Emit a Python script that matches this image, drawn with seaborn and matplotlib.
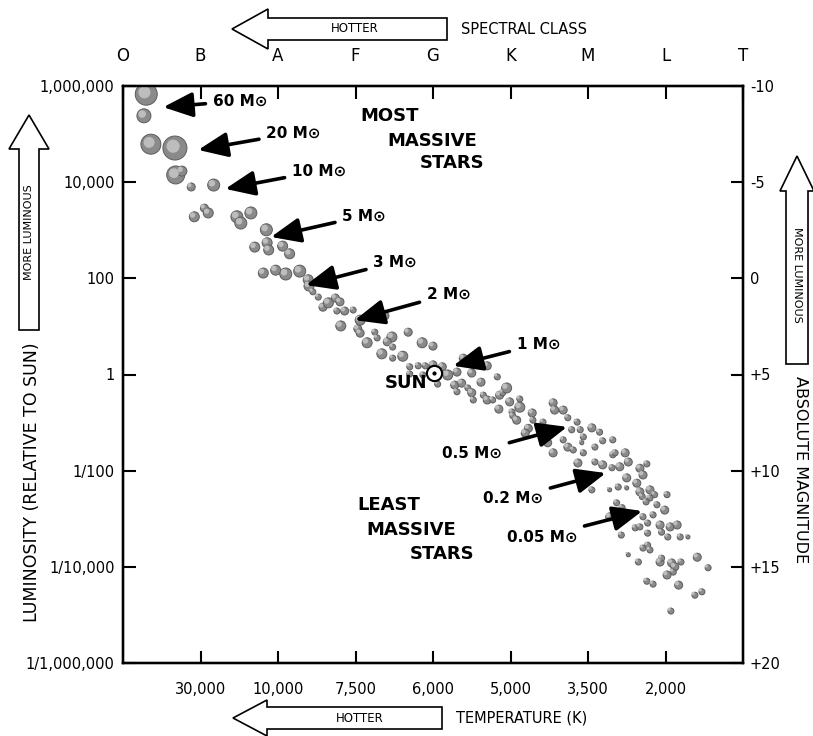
import matplotlib
matplotlib.use("Agg")
import matplotlib.pyplot as plt
import matplotlib.transforms as mtransforms
from matplotlib.patches import Polygon
import numpy as np
import pandas as pd
import seaborn as sns

# ---------------- data ----------------
spectral_classes = ["O", "B", "A", "F", "G", "K", "M", "L", "T"]
temp_labels = ["30,000", "10,000", "7,500", "6,000", "5,000", "3,500", "2,000"]
lum_ticks = [6, 4, 2, 0, -2, -4, -6]
lum_labels = ["1,000,000", "10,000", "100", "1", "1/100", "1/10,000", "1/1,000,000"]
mag_labels = ["-10", "-5", "0", "+5", "+10", "+15", "+20"]

# star positions: spectral-class position (O=0 ... T=8), log10 luminosity, relative radius
spec_pos = [0.30, 0.27, 0.36, 0.67, 0.68, 0.76, 0.88, 1.17, 0.92, 1.05, 1.10, 1.47, 1.52, 1.65,
            1.85, 1.70, 1.86, 1.88, 2.06, 2.15, 1.81, 1.97, 2.10, 2.28, 2.39, 2.40, 2.45, 2.52,
            2.58, 2.65, 2.74, 2.80, 2.76, 2.86, 2.97, 3.06, 3.38, 2.81, 3.03, 3.06, 3.25, 3.28,
            3.47, 3.41, 3.15, 3.48, 3.68, 3.86, 4.00, 3.34, 3.48, 3.61, 3.70, 3.81, 3.90, 4.00,
            4.12, 3.70, 3.87, 4.06, 4.19, 4.31, 4.39, 4.50, 4.70, 4.83, 4.50, 4.28, 4.37, 4.31,
            4.45, 4.62, 4.50, 4.52, 4.65, 4.70, 4.86, 4.90, 4.95, 4.99, 5.12, 4.77, 4.85, 5.02,
            5.12, 5.08, 5.03, 5.28, 5.29, 5.42, 5.23, 5.19, 5.47, 5.55, 5.57, 5.68, 5.74, 5.86,
            5.79, 5.90, 5.94, 6.05, 6.15, 6.19, 6.09, 6.32, 6.32, 5.48, 5.55, 5.74, 5.81, 5.94,
            5.87, 6.09, 6.19, 6.31, 6.39, 6.05, 5.92, 5.68, 6.35, 6.48, 6.52, 6.41, 6.67, 6.71,
            6.76, 6.50, 6.28, 6.50, 6.63, 6.67, 6.70, 6.80, 6.86, 6.80, 6.75, 6.89, 7.02, 6.99,
            6.37, 6.44, 6.28, 6.43, 6.61, 6.67, 6.71, 6.77, 6.77, 6.84, 6.93, 7.06, 7.15, 7.03,
            6.95, 7.19, 7.29, 6.52, 6.65, 6.71, 6.77, 6.80, 6.93, 6.95, 7.08, 7.12, 7.10, 7.02,
            7.20, 7.41, 7.55, 6.76, 6.84, 7.17, 7.38, 7.47, 7.07]
log_lum = [5.83, 5.38, 4.79, 4.71, 4.15, 4.23, 3.90, 3.94, 3.28, 3.46, 3.36, 3.28, 3.15, 3.36,
           3.01, 2.65, 2.74, 2.59, 2.67, 2.51, 2.11, 2.17, 2.09, 2.15, 1.97, 1.84, 1.72, 1.61,
           1.40, 1.49, 1.59, 1.51, 1.32, 1.32, 1.34, 1.13, 1.22, 1.01, 0.95, 0.86, 0.88, 0.76,
           0.78, 0.68, 0.66, 0.57, 0.88, 0.66, 0.59, 0.43, 0.34, 0.38, 0.16, 0.18, 0.18, 0.20,
           0.16, 0.01, -0.01, -0.20, -0.01, 0.05, 0.34, 0.20, 0.18, -0.05, 0.03, -0.22, -0.18, -0.36,
           -0.28, -0.16, -0.38, -0.53, -0.43, -0.53, -0.43, -0.38, -0.28, -0.57, -0.51, -0.53, -0.72, -0.78,
           -0.68, -0.95, -0.86, -0.80, -0.95, -0.99, -1.12, -1.22, -1.15, -0.59, -0.74, -0.74, -0.90, -0.99,
           -1.15, -1.15, -1.30, -1.11, -1.20, -1.38, -1.51, -1.36, -1.67, -1.42, -1.63, -1.51, -1.57, -1.63,
           -1.84, -1.82, -1.88, -1.94, -2.34, -2.40, -1.42, -1.36, -1.63, -1.63, -1.82, -1.92, -1.95, -2.09,
           -1.86, -2.15, -2.40, -2.36, -2.26, -2.44, -2.54, -2.40, -2.50, -2.57, -2.65, -2.71, -2.50, -2.82,
           -2.67, -2.77, -2.96, -3.34, -3.19, -3.17, -2.96, -3.09, -3.30, -2.92, -3.13, -3.17, -3.13, -3.38,
           -3.28, -3.38, -3.38, -3.75, -3.90, -3.61, -3.55, -3.65, -3.90, -3.82, -3.92, -4.00, -4.11, -4.17,
           -3.90, -3.80, -4.02, -4.30, -4.36, -4.38, -4.59, -4.52, -4.92]
star_radius = [11, 7, 10, 12, 9, 5, 4, 6, 5, 4, 5, 6, 6, 6,
               6, 5, 5, 5, 5, 5, 5, 5, 6, 6, 5, 5, 3, 3,
               4, 5, 4, 4, 3, 4, 3, 5, 4, 5, 4, 4, 3, 3,
               5, 4, 5, 3, 4, 5, 4, 5, 3, 5, 3, 3, 3, 4,
               4, 3, 3, 3, 5, 4, 4, 3, 4, 3, 4, 4, 4, 3,
               3, 4, 4, 3, 3, 4, 4, 3, 5, 4, 3, 3, 4, 3,
               5, 4, 3, 4, 3, 3, 4, 4, 4, 4, 4, 4, 3, 3,
               3, 3, 3, 4, 3, 3, 3, 3, 3, 4, 4, 4, 3, 3,
               4, 3, 4, 3, 3, 3, 2, 3, 3, 4, 4, 4, 4, 4,
               3, 4, 2, 2, 4, 4, 3, 4, 3, 3, 3, 3, 3, 4,
               3, 3, 4, 3, 3, 3, 3, 3, 3, 3, 4, 4, 4, 3,
               3, 3, 2, 2, 3, 3, 3, 3, 4, 3, 4, 4, 3, 4,
               3, 4, 3, 3, 3, 4, 3, 3, 3]

sun_pos = [4.01]
sun_logL = [0.03]

mass_labels = ["60 M\u2299", "20 M\u2299", "10 M\u2299", "5 M\u2299", "3 M\u2299", "2 M\u2299",
               "1 M\u2299", "0.5 M\u2299", "0.2 M\u2299", "0.05 M\u2299"]
arrow_tip_pos = [0.52, 0.97, 1.32, 1.91, 2.36, 2.99, 4.26, 5.73, 6.23, 6.70]
arrow_tip_logL = [5.56, 4.67, 3.86, 2.86, 1.86, 1.13, 0.18, -1.09, -2.05, -2.84]
label_pos = [1.16, 1.85, 2.18, 2.83, 3.23, 3.92, 5.08, 4.89, 5.42, 5.86]
label_logL = [5.69, 5.02, 4.23, 3.30, 2.34, 1.67, 0.63, -1.63, -2.57, -3.38]

# ---------------- figure ----------------
sns.set_theme(style="white")
plt.rcParams["font.family"] = ["DejaVu Sans"]
plt.rcParams["text.color"] = "black"
plt.rcParams["axes.labelcolor"] = "black"
plt.rcParams["xtick.color"] = "black"
plt.rcParams["ytick.color"] = "black"

W, H = 813, 736
fig = plt.figure(figsize=(W / 100, H / 100), dpi=100)
ax = fig.add_axes([123 / W, 1 - 663 / H, 620 / W, 577 / H])

df = pd.DataFrame({"spec": spec_pos, "logL": log_lum,
                   "area": np.square(np.array(star_radius, dtype=float))})
k = (1.44) ** 2
sns.scatterplot(data=df, x="spec", y="logL", size="area", sizes=(k * 4, k * 144),
                size_norm=(4, 144), color="#8a8a8a", edgecolor="#5c5c5c", linewidth=0.7,
                legend=False, ax=ax, zorder=3)
hl = ax.transData + mtransforms.ScaledTranslation(-1.3 / 72, 1.3 / 72, fig.dpi_scale_trans)
sns.scatterplot(data=df, x="spec", y="logL", size="area", sizes=(k * 4 * 0.3, k * 144 * 0.3),
                size_norm=(4, 144), color="#bdbdbd", linewidth=0, legend=False, ax=ax,
                zorder=4, transform=hl)

# sun symbol
sns.scatterplot(x=sun_pos, y=sun_logL, s=120, color="white", edgecolor="black",
                linewidth=1.5, ax=ax, zorder=6, legend=False)
sns.scatterplot(x=sun_pos, y=sun_logL, s=9, color="black", linewidth=0, ax=ax,
                zorder=7, legend=False)

ax.set_xlim(0, 8)
ax.set_ylim(-6, 6)
ax.set_xlabel("")
ax.set_ylabel("")
ax.set_xticks(range(1, 8))
ax.set_xticklabels(temp_labels)
ax.set_yticks(lum_ticks)
ax.set_yticklabels(lum_labels)
ax.tick_params(axis="both", direction="in", length=9, width=1.5, colors="black")
ax.tick_params(axis="x", pad=14, labelsize=10.5)
ax.tick_params(axis="y", pad=6, labelsize=10.5)

top = ax.twiny()
top.set_xlim(0, 8)
top.set_xticks(range(9))
top.set_xticklabels(spectral_classes)
top.tick_params(axis="x", direction="in", length=9, width=1.5, pad=15, labelsize=12,
                colors="black")

right = ax.twinx()
right.set_ylim(-6, 6)
right.set_yticks(lum_ticks)
right.set_yticklabels(mag_labels)
right.tick_params(axis="y", direction="in", length=9, width=1.5, pad=5, labelsize=10.5,
                  colors="black")

for a in (ax, top, right):
    a.grid(False)
    for s in a.spines.values():
        s.set_color("black")
        s.set_linewidth(1.6)

# mass annotations
for i, lab in enumerate(mass_labels):
    ha = "left" if i < 7 else "right"
    ax.annotate(lab, xy=(arrow_tip_pos[i], arrow_tip_logL[i]),
                xytext=(label_pos[i], label_logL[i]), ha=ha, va="center",
                fontsize=11, fontweight="bold", zorder=8, color="black",
                arrowprops=dict(arrowstyle="-|>,head_length=0.9,head_width=0.38",
                                lw=2.6, color="black", shrinkA=3, shrinkB=0,
                                mutation_scale=20))

tb = dict(fontsize=13, fontweight="bold", va="center", ha="left", color="black")
ax.text(3.06, 5.38, "MOST", **tb)
ax.text(3.41, 4.86, "MASSIVE", **tb)
ax.text(3.83, 4.40, "STARS", **tb)
ax.text(3.02, -2.71, "LEAST", **tb)
ax.text(3.14, -3.23, "MASSIVE", **tb)
ax.text(3.70, -3.73, "STARS", **tb)
ax.text(3.65, -0.18, "SUN", fontsize=13, fontweight="bold", va="center", ha="center",
        color="black")


# ---------------- hollow guide arrows ----------------
def px(x, y):
    return (x / W, 1 - y / H)


def hollow_arrow(tip, tail, head_len, head_half, body_half, vertical=False):
    tx, ty = tip
    if not vertical:
        pts = [(tx, ty), (tx + head_len, ty - head_half), (tx + head_len, ty - body_half),
               (tail, ty - body_half), (tail, ty + body_half), (tx + head_len, ty + body_half),
               (tx + head_len, ty + head_half)]
    else:
        pts = [(tx, ty), (tx + head_half, ty + head_len), (tx + body_half, ty + head_len),
               (tx + body_half, tail), (tx - body_half, tail), (tx - body_half, ty + head_len),
               (tx - head_half, ty + head_len)]
    fig.patches.append(Polygon([px(*p) for p in pts], closed=True, facecolor="white",
                               edgecolor="black", linewidth=1.2, transform=fig.transFigure))


hollow_arrow((232, 29), 447, 36, 20, 11)
fig.text(*px(355, 29), "HOTTER", fontsize=8.5, ha="center", va="center")
fig.text(*px(461, 29), "SPECTRAL CLASS", fontsize=10.5, ha="left", va="center")

hollow_arrow((233, 718), 442, 34, 18, 11)
fig.text(*px(360, 718), "HOTTER", fontsize=8.5, ha="center", va="center")
fig.text(*px(456, 718), "TEMPERATURE (K)", fontsize=10.5, ha="left", va="center")

hollow_arrow((29, 115), 330, 34, 20, 10, vertical=True)
fig.text(*px(29, 232), "MORE LUMINOUS", fontsize=8, rotation=90, ha="center", va="center")
fig.text(*px(32, 482), "LUMINOSITY (RELATIVE TO SUN)", fontsize=12.5, rotation=90,
         ha="center", va="center")

hollow_arrow((797, 156), 364, 35, 17, 11, vertical=True)
fig.text(*px(797, 275), "MORE LUMINOUS", fontsize=8, rotation=-90, ha="center", va="center")
fig.text(*px(800, 470), "ABSOLUTE MAGNITUDE", fontsize=11.5, rotation=-90,
         ha="center", va="center")

fig.savefig("out.png", dpi=100, facecolor="white")
